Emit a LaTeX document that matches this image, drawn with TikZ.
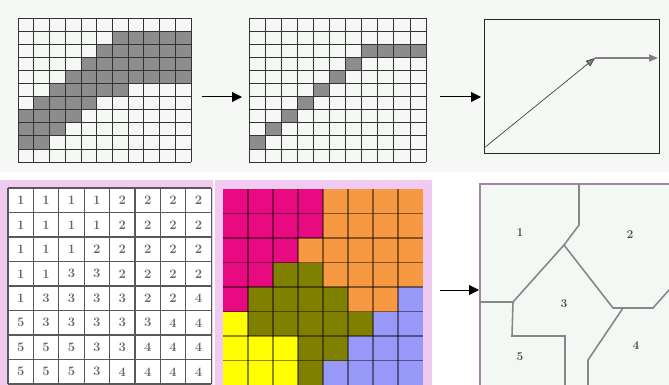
\documentclass[tikz,border=0pt]{standalone}
\usepackage{xcolor}
\usepackage{tikz}
\usetikzlibrary{arrows.meta, positioning, calc}
\definecolor{topbg}{RGB}{245,248,245}
\definecolor{pinkbg}{RGB}{240,202,240}
\definecolor{mapbg}{RGB}{244,248,244}
\definecolor{mapframe}{RGB}{165,135,165}
\definecolor{mapline}{RGB}{135,135,135}
\definecolor{reg1}{RGB}{232,10,128}
\definecolor{reg2}{RGB}{247,152,66}
\definecolor{reg3}{RGB}{128,128,0}
\definecolor{reg4}{RGB}{152,152,248}
\definecolor{reg5}{RGB}{255,255,0}
\tikzset{
  panel/.style={rectangle, inner sep=0pt, outer sep=0pt, anchor=north west},
  cellline/.style={draw=black!80, line width=0.7pt},
  shade/.style={fill=black!45},
  numline/.style={draw=black!65, line width=1.3pt},
  colline/.style={draw=black, line width=1.3pt, opacity=0.45},
  digit/.style={inner sep=0pt, text=black!60, font=\fontsize{13}{13}\selectfont\bfseries},
  reglabel/.style={inner sep=0pt, text=black!70, font=\fontsize{12}{12}\selectfont\bfseries},
  regionline/.style={draw=mapline, line width=1.6pt},
  trace/.style={draw=black!75, line width=0.7pt},
  arrow/.style={-{Triangle[length=10pt, width=10pt]}, line width=1pt},
  tracetip/.style={-{Triangle[length=9pt, width=7pt, fill=black!50]}},
}
\def\regionrows{{1,1,1,1,2,2,2,2},{1,1,1,1,2,2,2,2},{1,1,1,2,2,2,2,2},{1,1,3,3,2,2,2,2},{1,3,3,3,3,2,2,4},{5,3,3,3,3,3,4,4},{5,5,5,3,3,4,4,4},{5,5,5,3,4,4,4,4}}

\begin{document}
\begin{tikzpicture}[x=1pt, y=-1pt]
\useasboundingbox (0,0) rectangle (669,385);
\fill[topbg] (0,0) rectangle (669,172);
% top row
\node[panel, minimum width=173pt, minimum height=144pt] (g1) at (18,18) {};
\node[panel, minimum width=177pt, minimum height=144pt] (g2) at (249,18) {};
\node[panel, draw=black!85, line width=0.8pt, minimum width=175pt, minimum height=134pt] (b3) at (484,19) {};

\begin{scope}[shift={(g1.north west)}, x=15.727pt, y=-13.091pt]
\foreach \r/\a/\b in {1/6/10, 2/5/10, 3/4/10, 4/3/10, 5/2/6, 6/1/4, 7/0/3, 8/0/2, 9/0/1}
  \fill[shade] (\a,\r) rectangle (\b+1,\r+1);
\foreach \i in {0,...,11} {
  \draw[cellline] (\i,0) -- (\i,11);
  \draw[cellline] (0,\i) -- (11,\i);
}
\end{scope}

\begin{scope}[shift={(g2.north west)}, x=16.091pt, y=-13.091pt]
\foreach \r/\a/\b in {2/7/10, 3/6/6, 4/5/5, 5/4/4, 6/3/3, 7/2/2, 8/1/1, 9/0/0}
  \fill[shade] (\a,\r) rectangle (\b+1,\r+1);
\foreach \i in {0,...,11} {
  \draw[cellline] (\i,0) -- (\i,11);
  \draw[cellline] (0,\i) -- (11,\i);
}
\end{scope}

\coordinate (ts) at ($(b3.south west)+(0,-5)$);
\coordinate (tk) at ($(b3.north west)+(111,39)$);
\coordinate (te) at (b3.east |- tk);
\draw[trace, tracetip] (ts) -- (tk);
\draw[draw=black!50, line width=1.4pt, tracetip] (tk) -- ([xshift=-1pt]te);

\draw[arrow] ([xshift=11pt,yshift=-7pt]g1.east) -- ([xshift=-7pt,yshift=-7pt]g2.west);
\draw[arrow] ([xshift=14pt,yshift=-7pt]g2.east) -- ([xshift=-3pt,yshift=-11pt]b3.west);

% bottom row
\node[panel, fill=pinkbg, minimum width=213pt, minimum height=205pt] (p1) at (0,180) {};
\node[panel, fill=pinkbg, minimum width=217pt, minimum height=205pt] (p2) at (215,180) {};
\node[panel, fill=white, minimum width=203pt, minimum height=197pt] (n) at (8,188) {};
\node[panel, minimum width=200pt, minimum height=196pt] (c) at (223,189) {};
\node[panel, fill=mapbg, minimum width=189pt, minimum height=201pt] (m) at (480,184) {};

\begin{scope}[shift={(n.north west)}, x=25.4pt, y=-24.5pt]
\foreach \row [count=\r from 0] in \regionrows
  \foreach \v [count=\c from 0] in \row
    \node[digit] (d-\r-\c) at (\c+0.5,\r+0.5) {\v};
\foreach \i in {0,...,8} {
  \draw[numline] (\i,0) -- (\i,8);
  \draw[numline] (0,\i) -- (8,\i);
}
\end{scope}

\begin{scope}[shift={(c.north west)}, x=25pt, y=-24.5pt]
\foreach \row [count=\r from 0] in \regionrows
  \foreach \v [count=\c from 0] in \row
    \fill[reg\v] (\c,\r) rectangle (\c+1,\r+1);
\foreach \i in {1,...,7} {
  \draw[colline] (\i,0) -- (\i,8);
  \draw[colline] (0,\i) -- (8,\i);
}
\end{scope}

\draw[mapframe, line width=1.5pt] (m.south west) -- (m.north west) -- (m.north east);
\begin{scope}[shift={(m.north west)}]
\coordinate (ma) at (99,0);
\coordinate (mb) at (99,41);
\coordinate (mc) at (84,61);
\coordinate (md) at (33,118);
\coordinate (me) at (0,118);
\coordinate (mf) at (32,152);
\coordinate (mg) at (85,152);
\coordinate (mh) at (85,201);
\coordinate (mi) at (133,124);
\coordinate (mj) at (173,124);
\coordinate (mk) at (189,106);
\coordinate (ml) at (143,124);
\coordinate (mm) at (108,176);
\coordinate (mn) at (108,201);
\draw[regionline] (ma) -- (mb) -- (mc) -- (md) -- (me);
\draw[regionline] (md) -- (mf) -- (mg) -- (mh);
\draw[regionline] (mc) -- (mi) -- (mj) -- (mk);
\draw[regionline] (ml) -- (mm) -- (mn);
\node[reglabel] (r1) at (40,49) {1};
\node[reglabel] (r2) at (150,51) {2};
\node[reglabel] (r3) at (84,120) {3};
\node[reglabel] (r4) at (156,162) {4};
\node[reglabel] (r5) at (40,173) {5};
\end{scope}

\draw[arrow] ([xshift=8pt,yshift=-7.5pt]p2.east) -- ([xshift=-1pt,yshift=-5.5pt]m.west);
\end{tikzpicture}
\end{document}
